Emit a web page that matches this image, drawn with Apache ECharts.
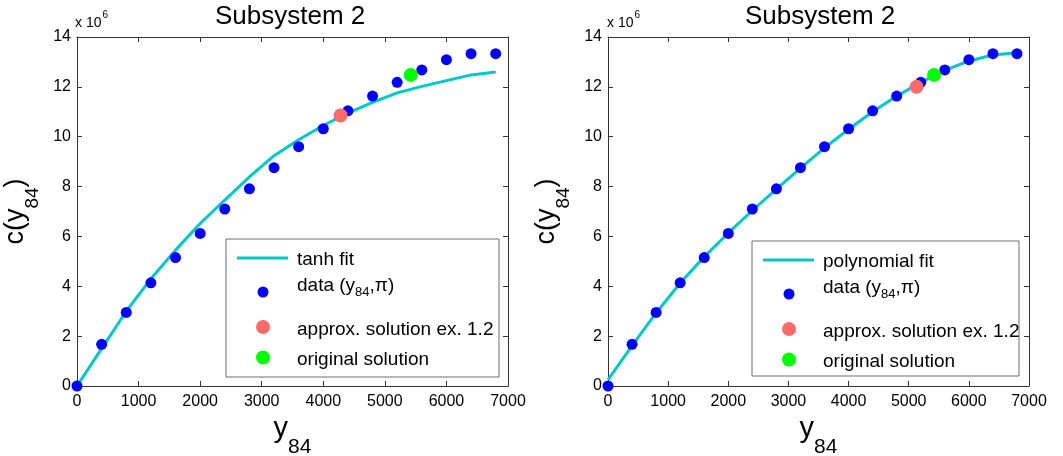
<!DOCTYPE html>
<html lang="en">
<head>
<meta charset="UTF-8">
<title>Subsystem 2</title>
<script src="https://cdn.jsdelivr.net/npm/echarts@6/dist/echarts.min.js"></script>
<style>
  html, body { margin: 0; padding: 0; background: #fff; }
  #chart { width: 1063px; height: 456px; }
</style>
</head>
<body>
<div id="chart"></div>
<script>
// y84 sample points (same for both panels)
var xValues = [0, 400, 800, 1200, 1600, 2000, 2400, 2800, 3200, 3600, 4000, 4400, 4800, 5200, 5600, 6000, 6400, 6800];
// c(y84) data, in units of 1e6
var cData = [0, 1.67, 2.95, 4.14, 5.15, 6.12, 7.10, 7.91, 8.76, 9.60, 10.32, 11.04, 11.63, 12.18, 12.68, 13.09, 13.33, 13.33];
// fitted curves
var tanhFit = [0, 1.5, 3.0, 4.3, 5.45, 6.52, 7.46, 8.39, 9.24, 9.88, 10.45, 10.95, 11.38, 11.76, 12.02, 12.25, 12.48, 12.6];
var polyFit = [0.25, 1.62, 2.93, 4.13, 5.18, 6.14, 7.04, 7.9, 8.74, 9.55, 10.3, 11.0, 11.63, 12.18, 12.66, 13.04, 13.28, 13.37];
// single points
var approxTanh = [4280, 10.85];
var approxPoly = [5130, 12.0];
var originalSol = [5420, 12.48];
var xTicks = [0, 7000, 1000];   // min, max, step
var yTicks = [0, 14, 2];

var FONT = '"Liberation Sans", Arial, Helvetica, sans-serif';
var AXIS = '#333';
var CYAN = '#00c8c8';
var BLUE = '#0000ff';
var RED = '#ff6b6b';
var GREEN = '#00ff00';

function pairs(xs, ys) {
    return xs.map(function (x, i) { return [x, ys[i]]; });
}

var chart = echarts.init(document.getElementById('chart'));

var grids = [
    { left: 77, top: 37, width: 431, height: 349, outerBoundsMode: 'none', containLabel: false },
    { left: 608, top: 37, width: 421, height: 349, outerBoundsMode: 'none', containLabel: false }
];

function xAxisFor(g, top) {
    return {
        type: 'value', gridIndex: g, position: top ? 'top' : 'bottom',
        min: xTicks[0], max: xTicks[1], interval: xTicks[2],
        axisLine: { show: true, onZero: false, lineStyle: { color: AXIS, width: 1 } },
        axisTick: { show: true, inside: true, length: 5, lineStyle: { color: AXIS } },
        splitLine: { show: false },
        axisLabel: top ? { show: false } : {
            show: true, margin: 8, fontSize: 16, color: '#000', fontFamily: FONT,
            formatter: function (v) { return String(v); }
        },
        name: top ? '' : 'y{s|84}',
        nameLocation: 'middle',
        nameGap: 14,
        nameMoveOverlap: false,
        nameTextStyle: {
            fontSize: 29, color: '#000', fontFamily: FONT,
            rich: { s: { fontSize: 21, color: '#000', fontFamily: FONT, padding: [37, 0, 0, 0] } }
        }
    };
}

function yAxisFor(g, right) {
    return {
        type: 'value', gridIndex: g, position: right ? 'right' : 'left',
        min: yTicks[0], max: yTicks[1], interval: yTicks[2],
        axisLine: { show: true, onZero: false, lineStyle: { color: AXIS, width: 1 } },
        axisTick: { show: true, inside: true, length: 5, lineStyle: { color: AXIS } },
        splitLine: { show: false },
        axisLabel: right ? { show: false } : {
            show: true, margin: 6, fontSize: 16, color: '#000', fontFamily: FONT
        },
        name: right ? '' : 'c(y{s|84})',
        nameLocation: 'middle',
        nameGap: 35,
        nameMoveOverlap: false,
        nameTextStyle: {
            fontSize: 27, color: '#000', fontFamily: FONT,
            rich: { s: { fontSize: 19, color: '#000', fontFamily: FONT, padding: [34, 0, 0, 0] } }
        }
    };
}

function seriesFor(g, fitName, fitValues, approx) {
    return [
        {
            name: fitName, type: 'line', xAxisIndex: g, yAxisIndex: g,
            data: pairs(xValues, fitValues), showSymbol: false, symbol: 'none',
            lineStyle: { color: CYAN, width: 3 }, itemStyle: { color: CYAN },
            silent: true, animation: false, z: 2
        },
        {
            name: 'data', type: 'scatter', xAxisIndex: g, yAxisIndex: g,
            data: pairs(xValues, cData), symbolSize: 11,
            itemStyle: { color: BLUE, opacity: 1 }, animation: false, z: 3
        },
        {
            name: 'approx. solution ex. 1.2', type: 'scatter', xAxisIndex: g, yAxisIndex: g,
            data: [approx], symbolSize: 14,
            itemStyle: { color: RED, opacity: 1 }, animation: false, z: 4
        },
        {
            name: 'original solution', type: 'scatter', xAxisIndex: g, yAxisIndex: g,
            data: [originalSol], symbolSize: 14,
            itemStyle: { color: GREEN, opacity: 1 }, animation: false, z: 4
        }
    ];
}

// legend box drawn with graphic elements (MATLAB-style spacing)
function legendBox(x0, y0, w, h, fitName) {
    var txt = function (x, base, s, rich) {
        return {
            type: 'text', x: x, y: base - 6.6, z: 100,
            style: { text: s, fontSize: 19, fontFamily: FONT, fill: '#000', verticalAlign: 'middle', rich: rich }
        };
    };
    return [
        { type: 'rect', z: 99, shape: { x: x0, y: y0, width: w, height: h },
          style: { fill: '#fff', stroke: '#6e6e6e', lineWidth: 1 } },
        { type: 'line', z: 100, shape: { x1: x0 + 11, y1: y0 + 19, x2: x0 + 62, y2: y0 + 19 },
          style: { stroke: CYAN, lineWidth: 3 } },
        txt(x0 + 71, y0 + 27.5, fitName),
        { type: 'circle', z: 100, shape: { cx: x0 + 37, cy: y0 + 53, r: 5.5 }, style: { fill: BLUE } },
        txt(x0 + 71, y0 + 53, '{n|data (y}{s|84}{n|,π)}', {
            n: { fontSize: 19, fontFamily: FONT, fill: '#000' },
            s: { fontSize: 13, fontFamily: FONT, fill: '#000', padding: [14, 0, 0, 0] }
        }),
        { type: 'circle', z: 100, shape: { cx: x0 + 37, cy: y0 + 88, r: 7 }, style: { fill: RED } },
        txt(x0 + 71, y0 + 97.5, 'approx. solution ex. 1.2'),
        { type: 'circle', z: 100, shape: { cx: x0 + 37, cy: y0 + 118.5, r: 7 }, style: { fill: GREEN } },
        txt(x0 + 71, y0 + 127, 'original solution')
    ];
}

function scaleLabel(x) {
    return {
        type: 'text', x: x, y: 23, z: 100,
        style: {
            text: '{a|x 10}{b|6}', verticalAlign: 'middle', fill: '#000',
            rich: {
                a: { fontSize: 14, fontFamily: FONT, fill: '#000' },
                b: { fontSize: 10, fontFamily: FONT, fill: '#000', padding: [0, 0, 16, 1] }
            }
        }
    };
}

var option = {
    backgroundColor: '#fff',
    animation: false,
    title: [
        { text: 'Subsystem 2', left: 215, top: 4, padding: 0,
          textStyle: { fontSize: 26, fontWeight: 'normal', color: '#000', fontFamily: FONT } },
        { text: 'Subsystem 2', left: 745, top: 4, padding: 0,
          textStyle: { fontSize: 26, fontWeight: 'normal', color: '#000', fontFamily: FONT } }
    ],
    grid: grids,
    xAxis: [xAxisFor(0, false), xAxisFor(1, false), xAxisFor(0, true), xAxisFor(1, true)],
    yAxis: [yAxisFor(0, false), yAxisFor(1, false), yAxisFor(0, true), yAxisFor(1, true)],
    series: seriesFor(0, 'tanh fit', tanhFit, approxTanh).concat(seriesFor(1, 'polynomial fit', polyFit, approxPoly)),
    graphic: [scaleLabel(75), scaleLabel(607)]
        .concat(legendBox(226, 239, 273, 138, 'tanh fit'))
        .concat(legendBox(752, 241, 267, 135, 'polynomial fit'))
};

chart.setOption(option);
</script>
</body>
</html>
